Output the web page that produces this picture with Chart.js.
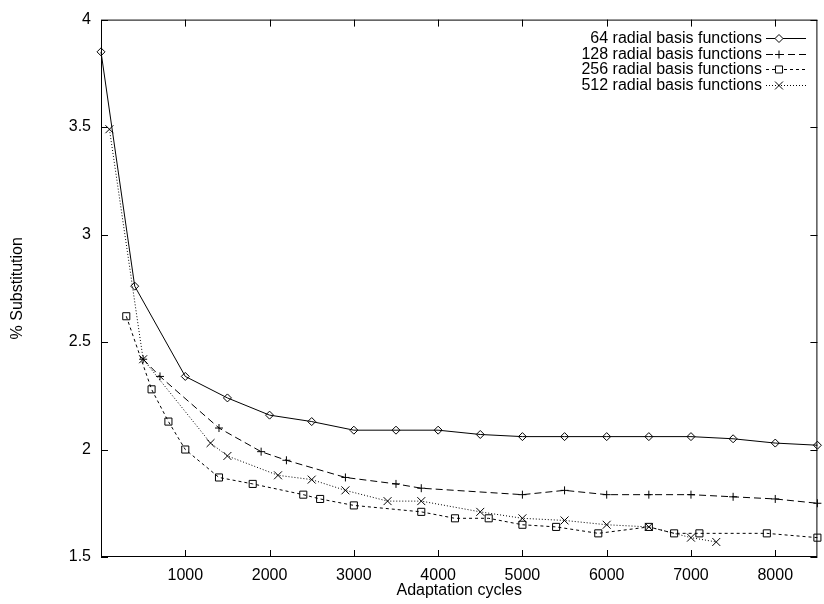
<!DOCTYPE html>
<html>
<head>
<meta charset="utf-8">
<script src="https://cdn.jsdelivr.net/npm/chart.js@4/dist/chart.umd.min.js"></script>
<style>
  html, body { margin: 0; padding: 0; background: #fff; }
  canvas { display: block; }
</style>
</head>
<body>
<canvas id="chart" width="824" height="604"></canvas>
<script>
// --- данные ---
const xTicks = [1000, 2000, 3000, 4000, 5000, 6000, 7000, 8000];
const yTicks = [1.5, 2, 2.5, 3, 3.5, 4];
const seriesNames = [
  "64 radial basis functions",
  "128 radial basis functions",
  "256 radial basis functions",
  "512 radial basis functions",
];

const rbf64X = [0, 400, 1000, 1500, 2000, 2500, 3000, 3500, 4000, 4500, 5000, 5500, 6000, 6500, 7000, 7500, 8000, 8500];
const rbf64Y = [3.85, 2.76, 2.34, 2.24, 2.16, 2.13, 2.09, 2.09, 2.09, 2.07, 2.06, 2.06, 2.06, 2.06, 2.06, 2.05, 2.03, 2.02];

const rbf128X = [500, 700, 1400, 1900, 2200, 2900, 3500, 3800, 5000, 5500, 6000, 6500, 7000, 7500, 8000, 8500];
const rbf128Y = [2.42, 2.34, 2.10, 1.99, 1.95, 1.87, 1.84, 1.82, 1.79, 1.81, 1.79, 1.79, 1.79, 1.78, 1.77, 1.75];

const rbf256X = [300, 600, 800, 1000, 1400, 1800, 2400, 2600, 3000, 3800, 4200, 4600, 5000, 5400, 5900, 6500, 6800, 7100, 7900, 8500];
const rbf256Y = [2.62, 2.28, 2.13, 2.00, 1.87, 1.84, 1.79, 1.77, 1.74, 1.71, 1.68, 1.68, 1.65, 1.64, 1.61, 1.64, 1.61, 1.61, 1.61, 1.59];

const rbf512X = [100, 500, 1300, 1500, 2100, 2500, 2900, 3400, 3800, 4500, 5000, 5500, 6000, 6500, 7000, 7300];
const rbf512Y = [3.49, 2.42, 2.03, 1.97, 1.88, 1.86, 1.81, 1.76, 1.76, 1.71, 1.68, 1.67, 1.65, 1.64, 1.59, 1.57];

const FONT = "'Liberation Sans', Arial, sans-serif";
const pts = (xs, ys) => xs.map((x, i) => ({ x, y: ys[i] }));

function series(name, xs, ys, dash, style, r) {
  return {
    label: name,
    data: pts(xs, ys),
    showLine: true,
    borderColor: "#000",
    borderWidth: 1,
    borderDash: dash,
    pointStyle: style,
    pointRadius: r,
    pointHoverRadius: r,
    pointBorderColor: "#000",
    pointBorderWidth: 1,
    pointBackgroundColor: "rgba(0,0,0,0)",
    tension: 0,
    clip: false,
  };
}

// рамка и засечки внутрь, со всех сторон (как в gnuplot)
const frame = {
  id: "frame",
  afterDatasetsDraw(chart) {
    const { ctx, chartArea: a, scales: { x, y } } = chart;
    const tl = 7;
    ctx.save();
    ctx.strokeStyle = "#000";
    ctx.lineWidth = 1;
    ctx.strokeRect(a.left + 0.5, a.top + 0.5, a.right - a.left - 1, a.bottom - a.top - 1);
    ctx.beginPath();
    for (const v of xTicks) {
      const px = Math.round(x.getPixelForValue(v)) + 0.5;
      ctx.moveTo(px, a.bottom); ctx.lineTo(px, a.bottom - tl);
      ctx.moveTo(px, a.top); ctx.lineTo(px, a.top + tl);
    }
    for (const v of yTicks) {
      const py = Math.round(y.getPixelForValue(v)) + 0.5;
      ctx.moveTo(a.left, py); ctx.lineTo(a.left + tl, py);
      ctx.moveTo(a.right, py); ctx.lineTo(a.right - tl, py);
    }
    ctx.stroke();
    ctx.restore();
  },
};

// легенда: текст справа выровнен, образец линии справа от текста
const keyBox = {
  id: "keyBox",
  afterDraw(chart) {
    const { ctx } = chart;
    const textRight = 762, x0 = 766, x1 = 806, mx = 779, top = 38, step = 15.5;
    ctx.save();
    ctx.font = "16px " + FONT;
    ctx.textAlign = "right";
    ctx.textBaseline = "middle";
    chart.data.datasets.forEach((ds, i) => {
      const yy = Math.round(top + i * step) + 0.5;
      ctx.fillStyle = "#000";
      ctx.fillText(ds.label, textRight, yy);
      ctx.setLineDash(ds.borderDash);
      ctx.strokeStyle = "#000";
      ctx.lineWidth = 1;
      ctx.beginPath(); ctx.moveTo(x0, yy); ctx.lineTo(x1, yy); ctx.stroke();
      ctx.setLineDash([]);
      ctx.fillStyle = "#fff";
      Chart.helpers.drawPoint(ctx, {
        pointStyle: ds.pointStyle, radius: ds.pointRadius, borderWidth: 1, rotation: 0,
      }, mx, yy);
    });
    ctx.restore();
  },
};

new Chart(document.getElementById("chart"), {
  type: "scatter",
  data: {
    datasets: [
      series(seriesNames[0], rbf64X, rbf64Y, [], "rectRot", 4),
      series(seriesNames[1], rbf128X, rbf128Y, [7, 4], "cross", 4),
      series(seriesNames[2], rbf256X, rbf256Y, [3, 3], "rect", 5),
      series(seriesNames[3], rbf512X, rbf512Y, [1, 2], "crossRot", 5.6),
    ],
  },
  options: {
    responsive: false,
    animation: false,
    layout: { padding: { top: 13, right: 1, left: 0, bottom: 0 } },
    plugins: { legend: { display: false }, tooltip: { enabled: false } },
    scales: {
      x: {
        type: "linear",
        min: 0, max: 8500,
        afterBuildTicks: s => { s.ticks = xTicks.map(v => ({ value: v })); },
        afterFit: s => { s.height = 47; },
        grid: { display: false, drawTicks: false },
        border: { display: false },
        ticks: { color: "#000", padding: 9, font: { family: FONT, size: 16 }, callback: v => String(v) },
        title: { display: true, text: "Adaptation cycles", color: "#000", padding: { bottom: 4 }, font: { family: FONT, size: 16 } },
      },
      y: {
        min: 1.5, max: 4,
        afterBuildTicks: s => { s.ticks = yTicks.map(v => ({ value: v })); },
        afterFit: s => { s.width = 101; },
        grid: { display: false, drawTicks: false },
        border: { display: false },
        ticks: { color: "#000", padding: 10, font: { family: FONT, size: 16 }, callback: v => String(v) },
        title: { display: true, text: "% Substitution", color: "#000", padding: { top: 8 }, font: { family: FONT, size: 16 } },
      },
    },
  },
  plugins: [frame, keyBox],
});
</script>
</body>
</html>
